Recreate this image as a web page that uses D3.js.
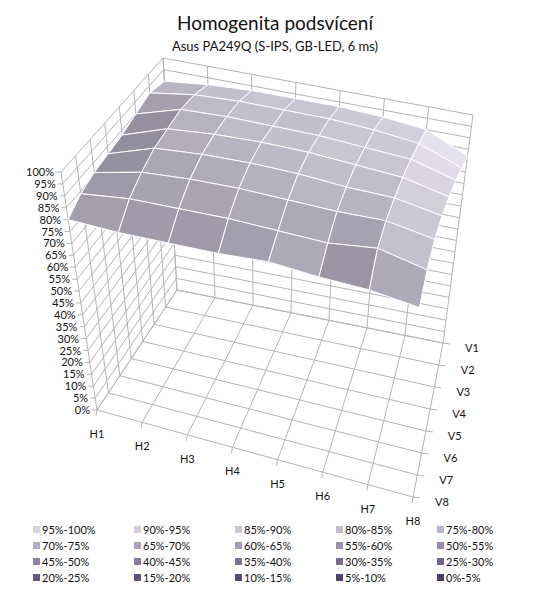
<!DOCTYPE html>
<html>
<head>
<meta charset="utf-8">
<script src="https://cdnjs.cloudflare.com/ajax/libs/d3/7.8.5/d3.min.js"></script>
<style>
  body { margin: 0; background: #fff; }
  text { font-family: Lato, "Open Sans", sans-serif; fill: #111; }
</style>
</head>
<body>
<div id="chart"></div>
<script>
// categories
const hCats = ['H1', 'H2', 'H3', 'H4', 'H5', 'H6', 'H7', 'H8'];
const vCats = ['V1', 'V2', 'V3', 'V4', 'V5', 'V6', 'V7', 'V8'];

// brightness (%) per row V1..V8, columns H1..H8
const V1 = [90, 92, 93, 93, 93, 92, 90, 82];
const V2 = [92, 95, 96, 96, 96, 95, 93, 86];
const V3 = [90, 96, 97, 97, 97, 96, 95, 90];
const V4 = [88, 95, 97, 98, 98, 97, 96, 92];
const V5 = [87, 94, 96, 97, 97, 96, 96, 93];
const V6 = [86, 91, 93, 94, 94, 94, 95, 92];
const V7 = [84, 87, 88, 89, 89, 89, 92, 88];
const V8 = [80, 80, 81, 82, 84, 83, 83, 81];
const rows = [V1, V2, V3, V4, V5, V6, V7, V8];

const zTicks = d3.range(0, 101, 5);
const bandLabels = ['95%-100%', '90%-95%', '85%-90%', '80%-85%', '75%-80%',
  '70%-75%', '65%-70%', '60%-65%', '55%-60%', '50%-55%',
  '45%-50%', '40%-45%', '35%-40%', '30%-35%', '25%-30%',
  '20%-25%', '15%-20%', '10%-15%', '5%-10%', '0%-5%'];

const width = 550, height = 589;
const svg = d3.select('#chart').append('svg').attr('width', width).attr('height', height);

svg.append('text').attr('x', 275).attr('y', 30).attr('text-anchor', 'middle')
  .style('font-size', '19px').text('Homogenita podsvícení');
svg.append('text').attr('x', 275).attr('y', 51).attr('text-anchor', 'middle')
  .style('font-size', '13px').text('Asus PA249Q  (S-IPS, GB-LED, 6 ms)');

// box corners in the picture: floor and top (100%), back-left / back-right / front-left / front-right
const floorC = {bl: [177, 290], br: [443, 343], fl: [97, 410], fr: [413, 497]};
const topC = {bl: [163, 58], br: [473, 115], fl: [61, 172], fr: [421, 263]};

const hScale = d3.scalePoint().domain(hCats).range([0, 1]);
const vScale = d3.scalePoint().domain(vCats).range([0, 1]);
const zScale = d3.scaleLinear().domain([0, 100]).range([0, 1]);

function bil(c, u, w) {
  const x = (1 - u) * (1 - w) * c.bl[0] + u * (1 - w) * c.br[0] + (1 - u) * w * c.fl[0] + u * w * c.fr[0];
  const y = (1 - u) * (1 - w) * c.bl[1] + u * (1 - w) * c.br[1] + (1 - u) * w * c.fl[1] + u * w * c.fr[1];
  return [x, y];
}
function proj(u, w, z) {
  const a = bil(floorC, u, w), b = bil(topC, u, w);
  const t = zScale(z);
  return [a[0] + (b[0] - a[0]) * t, a[1] + (b[1] - a[1]) * t];
}

const gridColor = '#b4b4b4';
const line = d3.line();
const grid = svg.append('g').attr('fill', 'none').attr('stroke', gridColor).attr('stroke-width', 1);

// left wall (H1) and back wall (V1)
zTicks.forEach(z => {
  grid.append('path').attr('d', line([proj(0, 1, z), proj(0, 0, z), proj(1, 0, z)]));
});
vCats.forEach(v => grid.append('path').attr('d', line([proj(0, vScale(v), 0), proj(0, vScale(v), 100)])));
hCats.forEach(h => grid.append('path').attr('d', line([proj(hScale(h), 0, 0), proj(hScale(h), 0, 100)])));
// floor
vCats.forEach(v => grid.append('path').attr('d', line([proj(0, vScale(v), 0), proj(1, vScale(v), 0)])));
hCats.forEach(h => grid.append('path').attr('d', line([proj(hScale(h), 0, 0), proj(hScale(h), 1, 0)])));

// axes: ticks and labels
const ax = svg.append('g');
zTicks.forEach(z => {
  const p = proj(0, 1, z);
  ax.append('line').attr('x1', p[0] - 5).attr('y1', p[1]).attr('x2', p[0]).attr('y2', p[1]).attr('stroke', gridColor);
  ax.append('text').attr('x', p[0] - 7).attr('y', p[1] + 4).attr('text-anchor', 'end')
    .style('font-size', '11px').text(z + '%');
});
hCats.forEach(h => {
  const p = proj(hScale(h), 1, 0);
  ax.append('line').attr('x1', p[0]).attr('y1', p[1]).attr('x2', p[0] - 1).attr('y2', p[1] + 6).attr('stroke', gridColor);
  ax.append('text').attr('x', p[0]).attr('y', p[1] + 28).attr('text-anchor', 'middle')
    .style('font-size', '11px').text(h);
});
vCats.forEach(v => {
  const p = proj(1, vScale(v), 0);
  ax.append('line').attr('x1', p[0]).attr('y1', p[1]).attr('x2', p[0] + 7).attr('y2', p[1] + 1).attr('stroke', gridColor);
  ax.append('text').attr('x', p[0] + 22).attr('y', p[1] + 9)
    .style('font-size', '11px').text(v);
});

// surface quads, back (V1) to front, H1 to H8
const light = (() => { const l = [0.6, -0.35, 0.75]; const n = Math.hypot(...l); return l.map(d => d / n); })();
const shade = d3.interpolateRgb('#847e92', '#f2eef8');
const surf = svg.append('g').attr('stroke', '#ffffff').attr('stroke-width', 1).attr('stroke-linejoin', 'round');
for (let j = 0; j < vCats.length - 1; j++) {
  for (let i = 0; i < hCats.length - 1; i++) {
    const u0 = hScale(hCats[i]), u1 = hScale(hCats[i + 1]);
    const w0 = vScale(vCats[j]), w1 = vScale(vCats[j + 1]);
    const z00 = rows[j][i], z10 = rows[j][i + 1], z01 = rows[j + 1][i], z11 = rows[j + 1][i + 1];
    // normal from diagonals in world units (step = 1, 1% = 0.05)
    const d1 = [1, 1, (z11 - z00) * 0.05], d2 = [-1, 1, (z01 - z10) * 0.05];
    let n = [d1[1] * d2[2] - d1[2] * d2[1], d1[2] * d2[0] - d1[0] * d2[2], d1[0] * d2[1] - d1[1] * d2[0]];
    if (n[2] < 0) n = n.map(d => -d);
    const nl = Math.hypot(...n);
    const dot = Math.max(0, (n[0] * light[0] + n[1] * light[1] + n[2] * light[2]) / nl);
    const t = Math.max(0, Math.min(1, (dot - 0.4) / 0.6));
    surf.append('path')
      .attr('d', line([proj(u0, w0, z00), proj(u1, w0, z10), proj(u1, w1, z11), proj(u0, w1, z01)]) + 'Z')
      .attr('fill', shade(t));
  }
}

// legend
const legendColor = d3.scaleLinear().domain([0, 19]).range(['#d9d4e1', '#4b3b68']).interpolate(d3.interpolateRgb);
const lg = svg.append('g');
bandLabels.forEach((b, k) => {
  const col = k % 5, row = Math.floor(k / 5);
  const x = 33 + col * 101, y = 530 + row * 16;
  lg.append('rect').attr('x', x).attr('y', y - 4).attr('width', 7).attr('height', 7).attr('fill', legendColor(k));
  lg.append('text').attr('x', x + 9).attr('y', y + 4).style('font-size', '11px').text(b);
});
</script>
</body>
</html>
